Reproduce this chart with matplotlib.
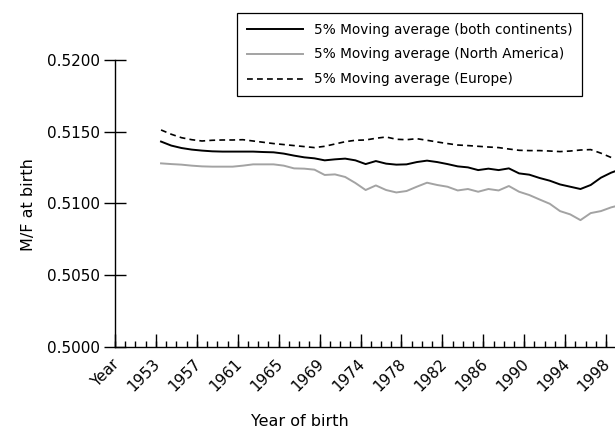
import numpy as np
import matplotlib
matplotlib.use("Agg")
import matplotlib.pyplot as plt

plt.rcParams['font.family'] = ['DejaVu Sans']

# Categories: label cell "Year" followed by the years
years = ([str(y) for y in range(1950, 1970)] + [str(y) for y in range(1971, 2000)])
categories = ["Year"] + years

nan = np.nan
# 5-point moving averages (first four categories empty)
both = [nan, nan, nan, nan,
        0.51431, 0.51403, 0.51386, 0.51375, 0.51368, 0.51363, 0.51361, 0.51361,
        0.51361, 0.51361, 0.51358, 0.51356, 0.51347, 0.51333, 0.51321, 0.51314,
        0.51300, 0.51307, 0.51312, 0.51300, 0.51274, 0.51295, 0.51277, 0.51270,
        0.51272, 0.51288, 0.51298, 0.51288, 0.51274, 0.51258, 0.51251, 0.51232,
        0.51242, 0.51232, 0.51244, 0.51209, 0.51200, 0.51177, 0.51158, 0.51132,
        0.51116, 0.51100, 0.51128, 0.51179, 0.51214, 0.51240]
north_america = [nan, nan, nan, nan,
        0.51279, 0.51274, 0.51270, 0.51263, 0.51258, 0.51256, 0.51256, 0.51256,
        0.51263, 0.51272, 0.51272, 0.51272, 0.51263, 0.51244, 0.51242, 0.51235,
        0.51198, 0.51202, 0.51184, 0.51142, 0.51093, 0.51125, 0.51093, 0.51076,
        0.51086, 0.51116, 0.51144, 0.51128, 0.51116, 0.51090, 0.51100, 0.51081,
        0.51100, 0.51090, 0.51121, 0.51081, 0.51058, 0.51027, 0.50997, 0.50946,
        0.50923, 0.50883, 0.50932, 0.50946, 0.50972, 0.50990]
europe = [nan, nan, nan, nan,
        0.51512, 0.51482, 0.51458, 0.51444, 0.51435, 0.51440, 0.51442, 0.51442,
        0.51444, 0.51435, 0.51426, 0.51417, 0.51410, 0.51403, 0.51396, 0.51389,
        0.51398, 0.51414, 0.51430, 0.51440, 0.51442, 0.51454, 0.51463, 0.51447,
        0.51444, 0.51451, 0.51440, 0.51428, 0.51417, 0.51407, 0.51403, 0.51398,
        0.51393, 0.51389, 0.51379, 0.51370, 0.51368, 0.51368, 0.51365, 0.51361,
        0.51365, 0.51372, 0.51375, 0.51350, 0.51320, nan]

legend_labels = ["5% Moving average (both continents)",
                 "5% Moving average (North America)",
                 "5% Moving average (Europe)"]
y_ticks = [0.5000, 0.5050, 0.5100, 0.5150, 0.5200]

N = len(categories)
x = np.arange(N)

fig = plt.figure(figsize=(6.15, 4.32), dpi=100)
# axes extends past the right edge (the original is cropped there)
ax = fig.add_axes([115/615, 1-346.7/432, N*10.23/615, 286.7/432])

ax.plot(x, both, color='black', lw=1.4, label=legend_labels[0])
ax.plot(x, north_america, color='#a3a3a3', lw=1.4, label=legend_labels[1])
ax.plot(x, europe, color='black', lw=1.2, ls=(0, (3.5, 2.5)), label=legend_labels[2])

ax.set_xlim(-0.5, N - 0.5)
ax.set_ylim(0.5, 0.52)

for s in ['top', 'right']:
    ax.spines[s].set_visible(False)
ax.spines['left'].set_linewidth(1.0)
ax.spines['bottom'].set_linewidth(1.0)

ax.set_yticks(y_ticks)
ax.set_yticklabels(["%.4f" % v for v in y_ticks])
ax.tick_params(axis='y', direction='inout', length=16, width=1.0, pad=3, labelsize=11)

label_pos = np.arange(0, N, 4)
ax.set_xticks(label_pos)
ax.set_xticklabels([categories[i] for i in label_pos], rotation=45, ha='right',
                   va='baseline', rotation_mode='anchor')
ax.tick_params(axis='x', which='major', length=0, pad=13, labelsize=11)
ax.set_xticks(np.arange(-0.5, N, 1), minor=True)
ax.tick_params(axis='x', which='minor', direction='in', length=4.3, width=1.0)

sec = ax.secondary_xaxis('bottom')
sec.set_xticks(np.arange(-0.5, N, 4))
sec.tick_params(direction='in', length=9.4, width=1.0, labelbottom=False)
sec.spines['bottom'].set_visible(False)

fig.text(28/615, 1-205/432, "M/F at birth", rotation=90, ha='center', va='center', fontsize=11.5)
fig.text(300/615, 1-421/432, "Year of birth", ha='center', va='center', fontsize=11.5)

leg = ax.legend(loc='upper left', bbox_to_anchor=(237/615, 1-13/432),
                bbox_transform=fig.transFigure, borderaxespad=0, fontsize=9.8,
                frameon=True, fancybox=False, edgecolor='black', framealpha=1,
                handlelength=4.15, handletextpad=0.8, labelspacing=0.8, borderpad=0.7)
leg.get_frame().set_linewidth(0.9)

fig.savefig("out.png", dpi=100)
